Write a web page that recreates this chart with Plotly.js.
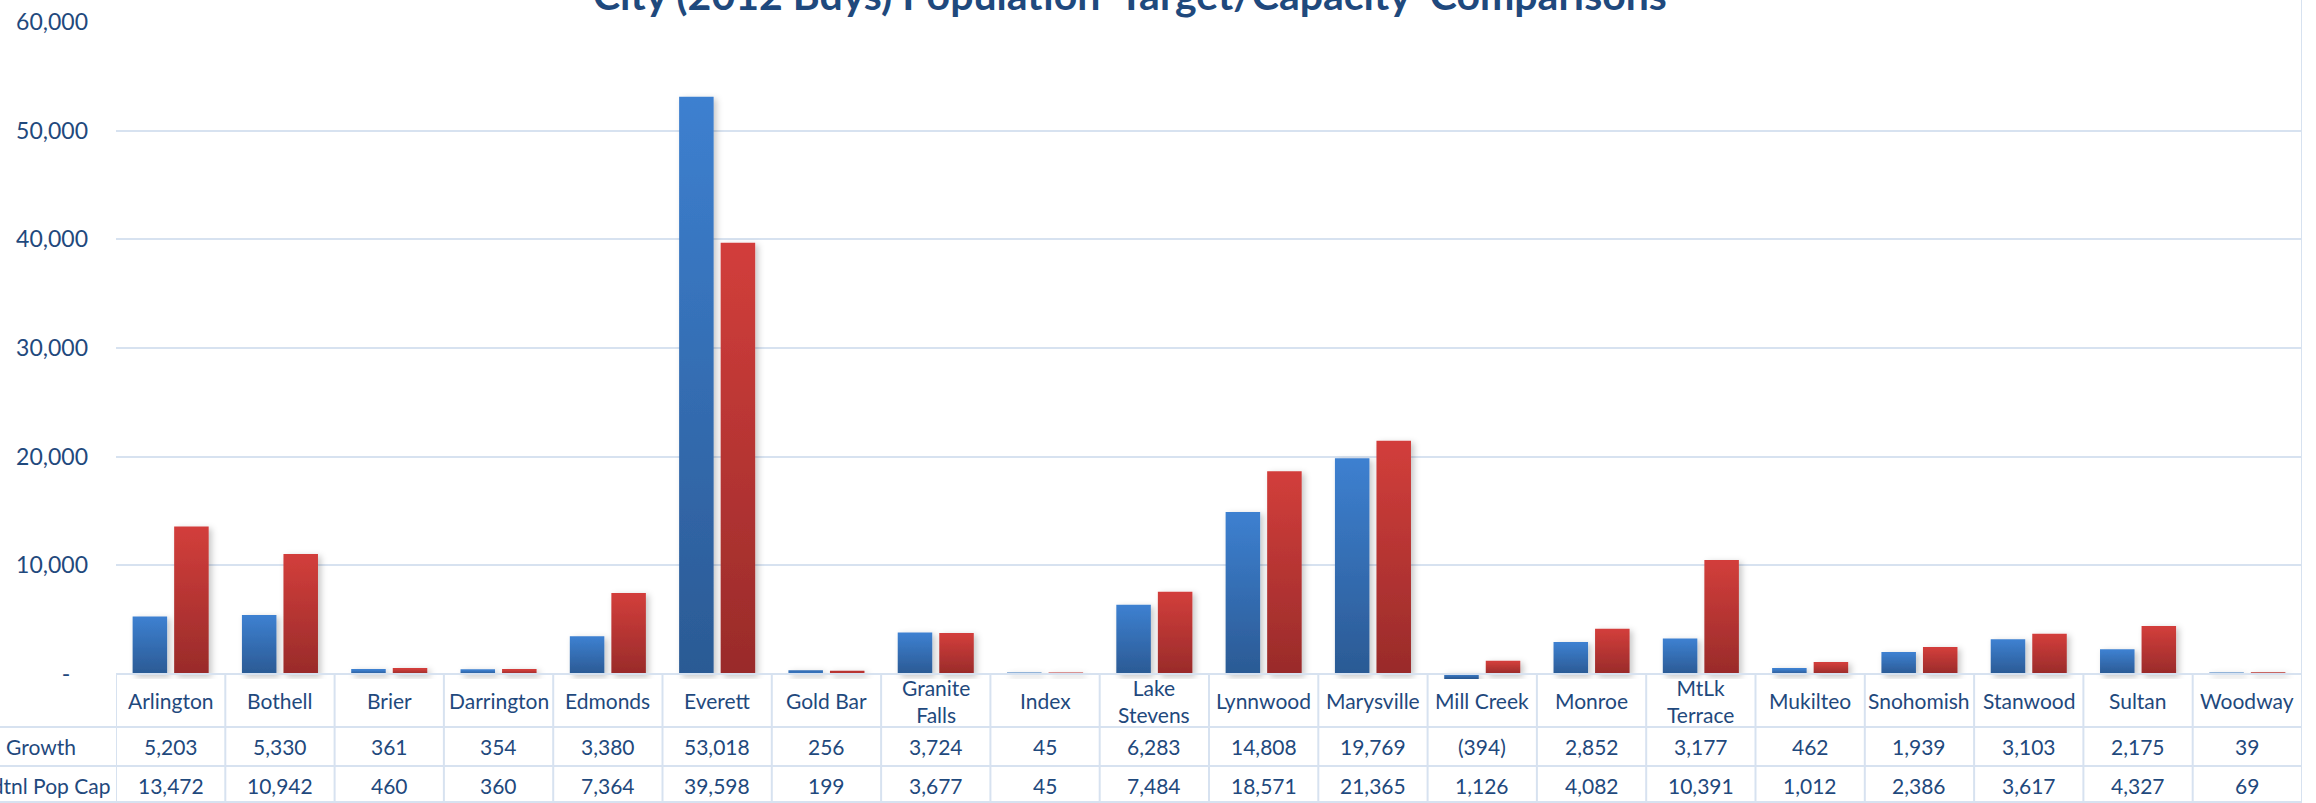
<!DOCTYPE html>
<html>
<head>
<meta charset="utf-8">
<script src="https://cdn.plot.ly/plotly-3.0.1.min.js"></script>
<style>
html,body{margin:0;padding:0;background:#fff;overflow:hidden;}
#chart{width:2316px;height:803px;}
</style>
</head>
<body>
<div id="chart"></div>
<script>
// ---- data ----
const categories = ['Arlington','Bothell','Brier','Darrington','Edmonds','Everett','Gold Bar','Granite Falls','Index','Lake Stevens','Lynnwood','Marysville','Mill Creek','Monroe','MtLk Terrace','Mukilteo','Snohomish','Stanwood','Sultan','Woodway'];
const categoryLabels = ['Arlington','Bothell','Brier','Darrington','Edmonds','Everett','Gold Bar','Granite<br>Falls','Index','Lake<br>Stevens','Lynnwood','Marysville','Mill Creek','Monroe','MtLk<br>Terrace','Mukilteo','Snohomish','Stanwood','Sultan','Woodway'];
const growth = [5203, 5330, 361, 354, 3380, 53018, 256, 3724, 45, 6283, 14808, 19769, -394, 2852, 3177, 462, 1939, 3103, 2175, 39];
const popCap = [13472, 10942, 460, 360, 7364, 39598, 199, 3677, 45, 7484, 18571, 21365, 1126, 4082, 10391, 1012, 2386, 3617, 4327, 69];
const seriesNames = ['Growth', 'Addtnl Pop Cap'];
const yTickVals = [0, 10000, 20000, 30000, 40000, 50000, 60000];
const yTickText = ['-\u00a0\u00a0\u00a0', '10,000', '20,000', '30,000', '40,000', '50,000', '60,000'];
const titleText = 'City (2012 Bdys) Population\u00a0 Target/Capacity\u00a0 Comparisons';

// ---- geometry ----
const W = 2316, H = 803;
const M = {l:116, r:14, t:22, b:124};
const plotH = H - M.t - M.b;
const plotW = W - M.l - M.r;
const ypx = px => (H - M.b - px) / plotH;   // pixel row -> paper y
const xpx = px => (px - M.l) / plotW;       // pixel col -> paper x

const TXT = '#1F497D';
const GRID = '#D7E2F0';
const FONT = 'Lato, "Open Sans", sans-serif';

function fmt(v){
  const s = Math.abs(v).toLocaleString('en-US');
  return v < 0 ? '(' + s + ')' : s;
}

const traces = [
  {type:'bar', name:seriesNames[0], x:categories, y:growth,
   marker:{color:'#3470B8', line:{color:'#3470B8', width:2}}},
  {type:'bar', name:seriesNames[1], x:categories, y:popCap,
   marker:{color:'#B93432', line:{color:'#B93432', width:2}}}
];

const annotations = [];
const shapes = [];
const rowTop = 674, row1 = 727, row2 = 766, rowBot = 802;

annotations.push({xref:'paper', yref:'paper', x:xpx(1130), y:ypx(-6), xanchor:'center', yanchor:'middle',
  text:'<b>' + titleText + '</b>', showarrow:false, font:{family:FONT, size:41, color:TXT}});

categories.forEach((c, i) => {
  annotations.push({xref:'x', yref:'paper', x:c, y:ypx((rowTop+row1)/2), xanchor:'center', yanchor:'middle',
    text:categoryLabels[i], showarrow:false, font:{family:FONT, size:21, color:TXT}});
  annotations.push({xref:'x', yref:'paper', x:c, y:ypx((row1+row2)/2), xanchor:'center', yanchor:'middle',
    text:fmt(growth[i]), showarrow:false, font:{family:FONT, size:21, color:TXT}});
  annotations.push({xref:'x', yref:'paper', x:c, y:ypx((row2+rowBot)/2 + 1), xanchor:'center', yanchor:'middle',
    text:fmt(popCap[i]), showarrow:false, font:{family:FONT, size:21, color:TXT}});
});
annotations.push({xref:'paper', yref:'paper', x:xpx(41), y:ypx((row1+row2)/2), xanchor:'center', yanchor:'middle',
  text:seriesNames[0], showarrow:false, font:{family:FONT, size:21, color:TXT}});
annotations.push({xref:'paper', yref:'paper', x:xpx(38), y:ypx((row2+rowBot)/2 + 1), xanchor:'center', yanchor:'middle',
  text:seriesNames[1], showarrow:false, font:{family:FONT, size:21, color:TXT}});

const ln = {color:GRID, width:2};
// horizontal table lines
shapes.push({type:'line', xref:'paper', yref:'paper', x0:0, x1:1, y0:ypx(rowTop), y1:ypx(rowTop), line:ln});
[row1, row2, rowBot].forEach(r => shapes.push({type:'line', xref:'paper', yref:'paper', x0:xpx(0), x1:1, y0:ypx(r), y1:ypx(r), line:ln}));
// vertical table lines
for (let i = 0; i <= categories.length; i++) {
  const top = (i === categories.length) ? 0 : rowTop;
  shapes.push({type:'line', xref:'x', yref:'paper', x0:i-0.5, x1:i-0.5, y0:ypx(top), y1:ypx(H), line:ln});
}

const layout = {
  width:W, height:H, margin:M, paper_bgcolor:'#fff', plot_bgcolor:'#fff',
  showlegend:false, barmode:'group', bargap:0.24, bargroupgap:0.217,
  font:{family:FONT, color:TXT},
  xaxis:{type:'category', range:[-0.5, categories.length-0.5], showticklabels:false, showgrid:false, zeroline:false, ticks:'', fixedrange:true},
  yaxis:{range:[-460, 60000], tickvals:yTickVals, ticktext:yTickText, showgrid:true, gridcolor:GRID, gridwidth:2,
         zeroline:false, ticks:'', ticklabelstandoff:27, tickfont:{family:FONT, size:23, color:TXT}, fixedrange:true},
  annotations:annotations, shapes:shapes
};

Plotly.newPlot('chart', traces, layout, {staticPlot:true, displayModeBar:false}).then(gd => {
  const svg = gd.querySelector('.main-svg');
  const NS = 'http://www.w3.org/2000/svg';
  let defs = svg.querySelector('defs');
  if (!defs) { defs = document.createElementNS(NS, 'defs'); svg.insertBefore(defs, svg.firstChild); }
  const grads = [['gBlue', '#3D80D0', '#2B5A94'], ['gRed', '#D23E3B', '#992B2A']];
  grads.forEach(([id, c0, c1]) => {
    const g = document.createElementNS(NS, 'linearGradient');
    g.setAttribute('id', id); g.setAttribute('x1', '0'); g.setAttribute('y1', '0'); g.setAttribute('x2', '0'); g.setAttribute('y2', '1');
    [[0, c0], [1, c1]].forEach(([o, c]) => {
      const s = document.createElementNS(NS, 'stop');
      s.setAttribute('offset', o); s.setAttribute('stop-color', c); g.appendChild(s);
    });
    defs.appendChild(g);
  });
  const f = document.createElementNS(NS, 'filter');
  f.setAttribute('id', 'barShadow'); f.setAttribute('x', '-5%'); f.setAttribute('y', '-5%'); f.setAttribute('width', '110%'); f.setAttribute('height', '110%');
  const ds = document.createElementNS(NS, 'feDropShadow');
  ds.setAttribute('dx', '3'); ds.setAttribute('dy', '2'); ds.setAttribute('stdDeviation', '3');
  ds.setAttribute('flood-color', '#000'); ds.setAttribute('flood-opacity', '0.22');
  f.appendChild(ds); defs.appendChild(f);
  const tr = gd.querySelectorAll('.barlayer .trace');
  tr.forEach((t, k) => {
    const id = k === 0 ? 'gBlue' : 'gRed';
    const solid = k === 0 ? '#3470B8' : '#B93432';
    t.querySelectorAll('path').forEach(p => {
      const bb = p.getBBox();
      if (bb.height >= 3) { p.style.fill = 'url(#' + id + ')'; p.style.stroke = 'url(#' + id + ')'; }
      else { p.style.fill = solid; p.style.stroke = solid; }
    });
  });
  const bl = gd.querySelector('.barlayer');
  if (bl) bl.setAttribute('filter', 'url(#barShadow)');
});
</script>
</body>
</html>
